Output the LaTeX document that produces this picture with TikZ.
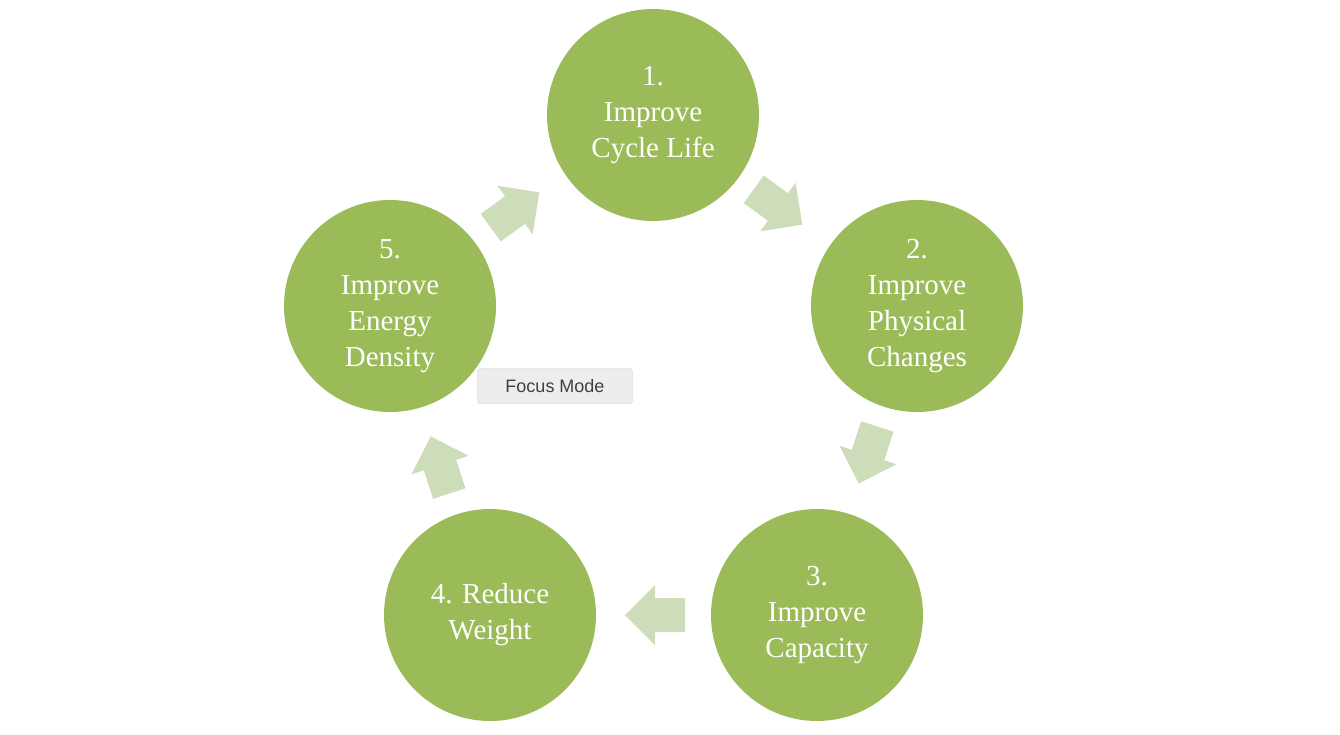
\documentclass[tikz,border=0pt]{standalone}
\usepackage{fontspec}
\setmainfont{Liberation Serif}
\newfontfamily\uisans{Liberation Sans}
\definecolor{cgreen}{HTML}{9BBB59}
\definecolor{agreen}{HTML}{CDDCB9}
\begin{document}
\begin{tikzpicture}[x=1pt,y=-1pt,
  stepnode/.style={circle,fill=cgreen,minimum size=212pt,inner sep=0pt,text=white,align=center,font=\fontsize{29}{36}\selectfont},
  barrow/.style={fill=agreen}]
\useasboundingbox (0,0) rectangle (1340,734);
\node[stepnode] (s1) at (653,115) {1.\\Improve\\Cycle Life};
\node[stepnode] (s2) at (917,306) {2.\\Improve\\Physical\\Changes};
\node[stepnode] (s3) at (817,615) {3.\\Improve\\Capacity};
\node[stepnode] (s4) at (490,615) {4. Reduce\\Weight};
\node[stepnode] (s5) at (390,306) {5.\\Improve\\Energy\\Density};
\foreach \p/\a in {{(778,207)}/-36,{(868,455)}/-108,{(655,615)}/180,{(440,465)}/108,{(515,210)}/36}{
  \fill[barrow,shift={\p},rotate=\a] (-30,-17) -- (0,-17) -- (0,-30) -- (30,0) -- (0,30) -- (0,17) -- (-30,17) -- cycle;
}
\node[draw=black!20,fill=black!7,rounded corners=3pt,minimum width=155pt,minimum height=35pt,font=\uisans\fontsize{18}{20}\selectfont,text=black!75] (fm) at (555,386) {Focus Mode};
\end{tikzpicture}
\end{document}
